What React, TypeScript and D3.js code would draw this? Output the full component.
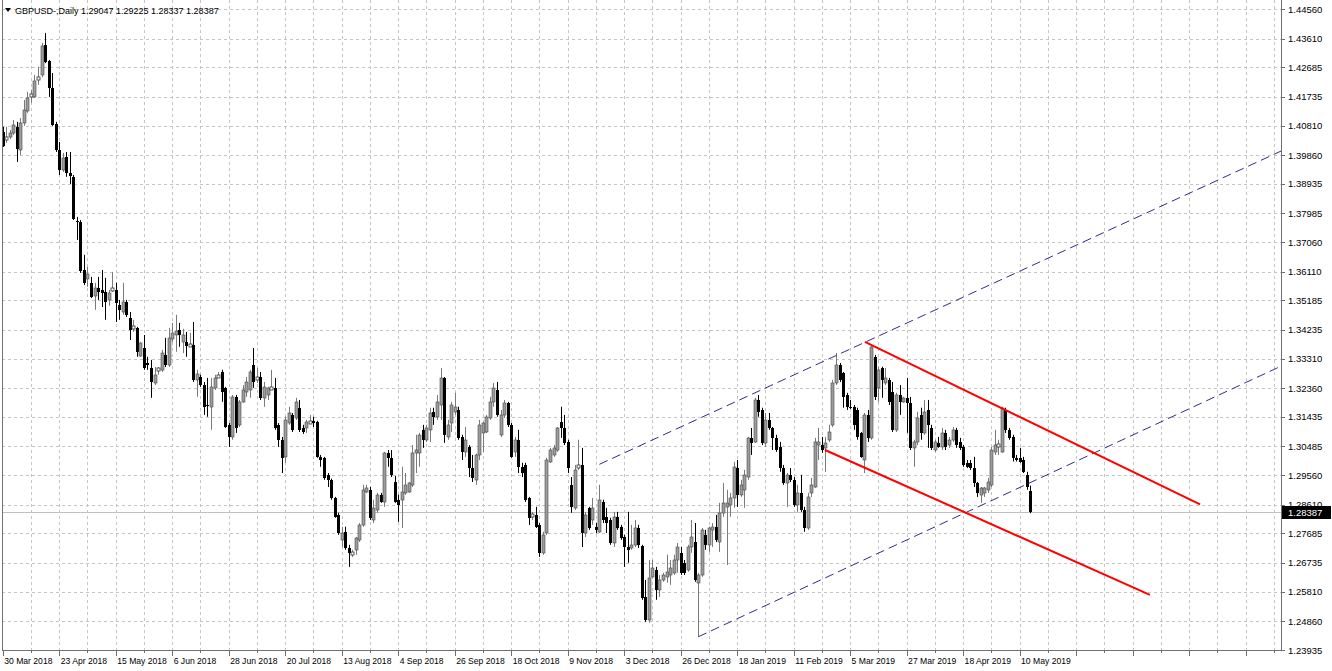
import React from "react";
import * as d3 from "d3";

const W = 1332;
const H = 671;

// ---- chart data (GBPUSD daily, 30 Mar 2018 .. 15 May 2019) ----
const symbolTitle = "GBPUSD-,Daily";
const lastQuote = ["1.29047", "1.29225", "1.28337", "1.28387"];

const tickLabels = [
  "30 Mar 2018", "23 Apr 2018", "15 May 2018", "6 Jun 2018", "28 Jun 2018", "20 Jul 2018",
  "13 Aug 2018", "4 Sep 2018", "26 Sep 2018", "18 Oct 2018", "9 Nov 2018", "3 Dec 2018",
  "26 Dec 2018", "18 Jan 2019", "11 Feb 2019", "5 Mar 2019", "27 Mar 2019", "18 Apr 2019",
  "10 May 2019",
];
const barsPerLabel = 16;
const barsPerGrid = 8;

const priceTicks = [
  1.4456, 1.4361, 1.42685, 1.41735, 1.4081, 1.3986, 1.38935, 1.37985, 1.3706, 1.3611,
  1.35185, 1.34235, 1.3331, 1.3236, 1.31435, 1.30485, 1.2956, 1.2861, 1.27685, 1.26735,
  1.2581, 1.2486, 1.23935,
];

const opens = [
  1.4060,1.4035,1.4044,1.4057,1.4077,1.4003,1.4089,1.4128,1.4173,1.4173,
  1.4228,1.4244,1.4340,1.4289,1.4202,1.4086,1.4003,1.3938,1.3980,1.3928,
  1.3916,1.3774,1.3771,1.3616,1.3587,1.3575,1.3533,1.3559,1.3552,1.3546,
  1.3520,1.3552,1.3552,1.3504,1.3481,1.3513,1.3462,1.3427,1.3430,1.3340,
  1.3366,1.3317,1.3301,1.3253,1.3291,1.3295,1.3343,1.3311,1.3394,1.3407,
  1.3423,1.3385,1.3385,1.3372,1.3375,1.3263,1.3272,1.3246,1.3182,1.3176,
  1.3237,1.3272,1.3288,1.3237,1.3118,1.3079,1.3208,1.3118,1.3192,1.3224,
  1.3230,1.3310,1.3266,1.3272,1.3205,1.3214,1.3234,1.3237,1.3118,1.3070,
  1.3015,1.3124,1.3150,1.3140,1.3173,1.3108,1.3108,1.3124,1.3131,1.3127,
  1.3015,1.3012,1.2957,1.2941,1.2883,1.2828,1.2748,1.2774,1.2722,1.2703,
  1.2716,1.2748,1.2796,1.2902,1.2909,1.2812,1.2844,1.2893,1.2870,1.3028,
  1.3012,1.2934,1.2877,1.2877,1.2899,1.2902,1.2925,1.3028,1.3028,1.3102,
  1.3070,1.3102,1.3160,1.3144,1.3182,1.3269,1.3079,1.3124,1.3160,1.3166,
  1.3079,1.3031,1.3047,1.2979,1.2941,1.3021,1.3092,1.3095,1.3140,1.3192,
  1.3230,1.3086,1.3150,1.3189,1.3118,1.3031,1.3070,1.2983,1.2989,1.2883,
  1.2822,1.2828,1.2796,1.2706,1.2770,1.2999,1.3021,1.3037,1.3127,1.3108,
  1.3063,1.2925,1.2851,1.2983,1.2989,1.2770,1.2851,1.2812,1.2790,1.2774,
  1.2870,1.2822,1.2812,1.2738,1.2822,1.2790,1.2757,1.2725,1.2722,1.2732,
  1.2786,1.2729,1.2564,1.2490,1.2629,1.2651,1.2587,1.2619,1.2629,1.2635,
  1.2642,1.2683,1.2706,1.2674,1.2651,1.2725,1.2741,1.2610,1.2635,1.2764,
  1.2732,1.2780,1.2790,1.2741,1.2835,1.2854,1.2861,1.2883,1.2979,1.2893,
  1.2909,1.2951,1.3076,1.3063,1.3198,1.3166,1.3060,1.3134,1.3108,1.3076,
  1.3047,1.2979,1.2931,1.2957,1.2941,1.2861,1.2899,1.2844,1.2786,1.2899,
  1.2918,1.3053,1.3053,1.3044,1.3070,1.3118,1.3253,1.3311,1.3285,1.3214,
  1.3176,1.3176,1.3166,1.3092,1.3005,1.3150,1.3076,1.3336,1.3237,1.3301,
  1.3253,1.3263,1.3224,1.3102,1.3214,1.3192,1.3205,1.3189,1.3044,1.3063,
  1.3150,1.3092,1.3166,1.3108,1.3037,1.3060,1.3047,1.3092,1.3053,1.3070,
  1.3102,1.3063,1.3047,1.2996,1.2996,1.2979,1.2931,1.2893,1.2899,1.2909,
  1.2925,1.3031,1.3047,1.3031,1.3166,1.3102,1.3079,1.3012,1.3012,1.3005,
  1.2957,1.29047,
];

const highs = [
  1.4077,1.4077,1.4067,1.4099,1.4093,1.4105,1.4163,1.4189,1.4196,1.4244,
  1.4270,1.4347,1.4379,1.4292,1.4250,1.4093,1.4028,1.3993,1.3996,1.3996,
  1.3922,1.3787,1.3777,1.3665,1.3626,1.3594,1.3575,1.3594,1.3616,1.3591,
  1.3552,1.3610,1.3575,1.3520,1.3575,1.3520,1.3481,1.3456,1.3433,1.3385,
  1.3407,1.3337,1.3327,1.3304,1.3304,1.3359,1.3398,1.3430,1.3446,1.3472,
  1.3446,1.3427,1.3417,1.3414,1.3449,1.3295,1.3279,1.3256,1.3269,1.3269,
  1.3279,1.3288,1.3295,1.3240,1.3124,1.3214,1.3214,1.3198,1.3246,1.3272,
  1.3295,1.3365,1.3301,1.3288,1.3256,1.3240,1.3295,1.3269,1.3124,1.3079,
  1.3144,1.3176,1.3156,1.3205,1.3198,1.3118,1.3134,1.3150,1.3144,1.3131,
  1.3021,1.3015,1.2963,1.2945,1.2886,1.2835,1.2790,1.2790,1.2732,1.2716,
  1.2757,1.2802,1.2925,1.2925,1.2918,1.2877,1.2899,1.2899,1.3031,1.3037,
  1.3037,1.2954,1.2893,1.2983,1.2963,1.2934,1.3053,1.3086,1.3092,1.3118,
  1.3118,1.3173,1.3173,1.3214,1.3301,1.3272,1.3134,1.3192,1.3221,1.3176,
  1.3086,1.3111,1.3053,1.3021,1.3025,1.3134,1.3127,1.3150,1.3208,1.3253,
  1.3256,1.3166,1.3198,1.3192,1.3124,1.3079,1.3102,1.2996,1.2996,1.2886,
  1.2838,1.2854,1.2802,1.2774,1.3012,1.3044,1.3053,1.3111,1.3176,1.3150,
  1.3070,1.2950,1.2989,1.3070,1.3044,1.2838,1.2854,1.2883,1.2802,1.2925,
  1.2877,1.2851,1.2819,1.2838,1.2838,1.2796,1.2764,1.2838,1.2796,1.2812,
  1.2796,1.2732,1.2619,1.2683,1.2683,1.2661,1.2635,1.2642,1.2700,1.2683,
  1.2700,1.2738,1.2725,1.2683,1.2732,1.2812,1.2802,1.2642,1.2786,1.2780,
  1.2790,1.2802,1.2828,1.2867,1.2931,1.2909,1.2899,1.2999,1.3005,1.2941,
  1.2973,1.3079,1.3108,1.3205,1.3214,1.3173,1.3156,1.3156,1.3111,1.3086,
  1.3063,1.2989,1.2963,1.2979,1.2950,1.2925,1.2957,1.2854,1.2899,1.2947,
  1.3076,1.3108,1.3079,1.3079,1.3118,1.3263,1.3349,1.3317,1.3288,1.3221,
  1.3198,1.3182,1.3173,1.3095,1.3156,1.3166,1.3375,1.3343,1.3304,1.3305,
  1.3301,1.3269,1.3256,1.3221,1.3246,1.3208,1.3269,1.3208,1.3070,1.3160,
  1.3173,1.3198,1.3198,1.3118,1.3070,1.3079,1.3108,1.3102,1.3079,1.3111,
  1.3108,1.3076,1.3053,1.3005,1.3005,1.3015,1.2934,1.2918,1.2918,1.2947,
  1.3047,1.3102,1.3070,1.3176,1.3173,1.3108,1.3086,1.3021,1.3044,1.3015,
  1.2967,1.29225,
];

const lows = [
  1.4012,1.4025,1.4038,1.4051,1.3964,1.3986,1.4080,1.4122,1.4154,1.4170,
  1.4212,1.4237,1.4282,1.4173,1.4080,1.3996,1.3922,1.3932,1.3916,1.3893,
  1.3777,1.3713,1.3607,1.3568,1.3562,1.3526,1.3488,1.3520,1.3497,1.3456,
  1.3501,1.3546,1.3449,1.3456,1.3472,1.3465,1.3391,1.3417,1.3337,1.3337,
  1.3295,1.3295,1.3205,1.3246,1.3279,1.3288,1.3304,1.3304,1.3385,1.3353,
  1.3369,1.3349,1.3337,1.3369,1.3256,1.3208,1.3240,1.3150,1.3144,1.3102,
  1.3230,1.3269,1.3192,1.3108,1.3047,1.3070,1.3092,1.3111,1.3189,1.3208,
  1.3205,1.3237,1.3253,1.3198,1.3176,1.3198,1.3230,1.3102,1.3047,1.2963,
  1.2996,1.3118,1.3095,1.3134,1.3095,1.3089,1.3092,1.3121,1.3111,1.3012,
  1.2983,1.2941,1.2918,1.2877,1.2819,1.2764,1.2725,1.2716,1.2661,1.2693,
  1.2700,1.2741,1.2790,1.2899,1.2812,1.2802,1.2835,1.2867,1.2854,1.2983,
  1.2950,1.2867,1.2806,1.2786,1.2893,1.2899,1.2918,1.2963,1.2983,1.3044,
  1.3063,1.3063,1.3118,1.3134,1.3134,1.3060,1.3070,1.3095,1.3150,1.3070,
  1.3005,1.3015,1.2950,1.2934,1.2925,1.3005,1.3031,1.3092,1.3134,1.3176,
  1.3144,1.3079,1.3140,1.3111,1.3012,1.3015,1.2963,1.2950,1.2870,1.2796,
  1.2812,1.2786,1.2693,1.2700,1.2764,1.2996,1.3015,1.3031,1.3076,1.3053,
  1.2963,1.2835,1.2844,1.2973,1.2725,1.2757,1.2780,1.2796,1.2770,1.2770,
  1.2802,1.2770,1.2732,1.2725,1.2780,1.2748,1.2661,1.2674,1.2716,1.2725,
  1.2722,1.2555,1.2484,1.2481,1.2626,1.2555,1.2564,1.2613,1.2610,1.2603,
  1.2635,1.2642,1.2635,1.2635,1.2645,1.2706,1.2613,1.2436,1.2629,1.2716,
  1.2709,1.2725,1.2741,1.2709,1.2822,1.2667,1.2822,1.2851,1.2854,1.2886,
  1.2851,1.2941,1.3021,1.3060,1.3144,1.3053,1.3047,1.3102,1.3037,1.3031,
  1.2967,1.2925,1.2854,1.2934,1.2854,1.2838,1.2838,1.2774,1.2780,1.2886,
  1.2915,1.3005,1.3028,1.2967,1.3063,1.3111,1.3246,1.3256,1.3173,1.3166,
  1.3169,1.3102,1.3070,1.3012,1.2963,1.3063,1.3070,1.3198,1.3192,1.3205,
  1.3246,1.3182,1.3095,1.3095,1.3150,1.3189,1.3092,1.3037,1.2983,1.3053,
  1.3070,1.3086,1.3044,1.3037,1.3031,1.3044,1.3037,1.3037,1.3044,1.3063,
  1.3044,1.3037,1.2983,1.2979,1.2973,1.2918,1.2886,1.2867,1.2886,1.2899,
  1.2918,1.3021,1.3021,1.3028,1.3092,1.3070,1.3000,1.3000,1.2996,1.2963,
  1.2909,1.28337,
];

const closes = [
  1.4015,1.4041,1.4057,1.4083,1.4006,1.4089,1.4131,1.4170,1.4180,1.4224,
  1.4234,1.4337,1.4286,1.4202,1.4083,1.4003,1.3938,1.3977,1.3928,1.3919,
  1.3780,1.3771,1.3613,1.3575,1.3604,1.3530,1.3559,1.3546,1.3542,1.3513,
  1.3542,1.3555,1.3510,1.3488,1.3513,1.3472,1.3423,1.3433,1.3353,1.3382,
  1.3301,1.3311,1.3256,1.3279,1.3298,1.3349,1.3311,1.3398,1.3414,1.3420,
  1.3407,1.3407,1.3372,1.3375,1.3263,1.3282,1.3246,1.3176,1.3179,1.3240,
  1.3269,1.3275,1.3224,1.3111,1.3079,1.3208,1.3108,1.3192,1.3230,1.3256,
  1.3288,1.3256,1.3269,1.3205,1.3240,1.3237,1.3237,1.3108,1.3070,1.3012,
  1.3134,1.3156,1.3102,1.3192,1.3102,1.3095,1.3127,1.3127,1.3124,1.3015,
  1.3005,1.2947,1.2941,1.2883,1.2822,1.2770,1.2770,1.2722,1.2706,1.2706,
  1.2754,1.2796,1.2909,1.2915,1.2819,1.2851,1.2893,1.2870,1.3028,1.3012,
  1.2957,1.2870,1.2861,1.2902,1.2925,1.2931,1.3028,1.3037,1.3086,1.3070,
  1.3108,1.3156,1.3144,1.3192,1.3269,1.3086,1.3118,1.3182,1.3176,1.3076,
  1.3031,1.3070,1.2979,1.2947,1.3021,1.3118,1.3124,1.3144,1.3192,1.3237,
  1.3150,1.3150,1.3189,1.3118,1.3015,1.3070,1.2983,1.2963,1.2877,1.2819,
  1.2828,1.2790,1.2706,1.2764,1.3005,1.3037,1.3044,1.3108,1.3108,1.3060,
  1.2979,1.2854,1.2973,1.2986,1.2770,1.2828,1.2786,1.2851,1.2780,1.2877,
  1.2812,1.2802,1.2738,1.2822,1.2786,1.2754,1.2725,1.2716,1.2732,1.2786,
  1.2732,1.2561,1.2490,1.2626,1.2658,1.2587,1.2619,1.2635,1.2645,1.2658,
  1.2683,1.2725,1.2642,1.2642,1.2725,1.2757,1.2619,1.2635,1.2780,1.2732,
  1.2786,1.2790,1.2748,1.2835,1.2867,1.2867,1.2883,1.2983,1.2893,1.2925,
  1.2957,1.3076,1.3060,1.3198,1.3160,1.3060,1.3134,1.3108,1.3076,1.3037,
  1.2979,1.2931,1.2957,1.2941,1.2861,1.2899,1.2844,1.2786,1.2886,1.2925,
  1.3063,1.3063,1.3037,1.3060,1.3095,1.3253,1.3311,1.3263,1.3208,1.3176,
  1.3173,1.3118,1.3079,1.3015,1.3150,1.3076,1.3369,1.3208,1.3295,1.3263,
  1.3269,1.3192,1.3102,1.3214,1.3192,1.3205,1.3189,1.3044,1.3063,1.3140,
  1.3092,1.3160,1.3118,1.3044,1.3063,1.3047,1.3092,1.3047,1.3070,1.3102,
  1.3053,1.3044,1.2989,1.2983,1.2979,1.2931,1.2899,1.2915,1.2915,1.2934,
  1.3037,1.3053,1.3053,1.3173,1.3102,1.3076,1.3012,1.3005,1.2999,1.2967,
  1.2918,1.28387,
];

// trend objects: [barIndex, price] anchor pairs
const channelUpper = [[169, 1.2991], [246, 1.3393]];
const channelLower = [[197, 1.2436], [291, 1.2932]];
const redUpper = [[244.2, 1.3385], [339.1, 1.2862]];
const redLower = [[232.9, 1.3037], [324.9, 1.2571]];

const FONT = "'Liberation Sans', Arial, sans-serif";

export default function App() {
  const n = Math.min(opens.length, highs.length, lows.length, closes.length);
  const plotLeft = 2;
  const plotRight = 1281;
  const plotTop = 0;
  const plotBottom = 650;

  const x = d3.scaleLinear().domain([0, 291]).range([2.7, 1030.2]);
  const y = d3.scaleLinear().domain([1.23935, 1.4456]).range([650, 9]);

  const edgeIdx = x.invert(plotRight);
  const ray = (pts: number[][]) => {
    const [[i1, p1], [i2, p2]] = pts;
    const slope = (p2 - p1) / (i2 - i1);
    const pe = p1 + slope * (edgeIdx - i1);
    return { x1: x(i1), y1: y(p1), x2: x(edgeIdx), y2: y(pe) };
  };
  const seg = (pts: number[][]) => ({
    x1: x(pts[0][0]), y1: y(pts[0][1]), x2: x(pts[1][0]), y2: y(pts[1][1]),
  });

  const gridIdx: number[] = [];
  for (let k = barsPerGrid; x(k) < plotRight; k += barsPerGrid) gridIdx.push(k);

  const lastClose = closes[n - 1];
  const yLast = y(lastClose);

  const candles = [];
  for (let i = 0; i < n; i++) {
    const o = opens[i], c = closes[i];
    const hi = Math.max(highs[i], o, c), lo = Math.min(lows[i], o, c);
    const cx = Math.round(x(i));
    const bull = c >= o;
    const yTop = Math.round(y(Math.max(o, c)));
    const yBot = Math.round(y(Math.min(o, c)));
    const h = Math.max(1, yBot - yTop);
    const wickColor = bull ? "#7a7a7a" : "#000";
    candles.push(
      <g key={i}>
        <line x1={cx + 0.5} x2={cx + 0.5} y1={y(hi)} y2={y(lo)} stroke={wickColor} strokeWidth={1} />
        {bull ? (
          h <= 2 ? (
            <rect x={cx - 1} y={yTop - 1} width={3} height={3} fill="#fff" stroke="#333" strokeWidth={0.8} />
          ) : (
            <rect x={cx - 1} y={yTop} width={3} height={h} fill="#9c9c9c" stroke="#4a4a4a" strokeWidth={0.6} />
          )
        ) : (
          <rect x={cx - 1} y={yTop} width={3} height={h} fill="#000" />
        )}
      </g>
    );
  }

  const cu = ray(channelUpper);
  const cl = ray(channelLower);
  const ru = seg(redUpper);
  const rl = seg(redLower);

  return (
    <div style={{ position: "absolute", left: 0, top: 0, width: W, height: H, background: "#fff" }}>
      <svg width={W} height={H} style={{ display: "block" }}>
        <defs>
          <clipPath id="plot">
            <rect x={plotLeft} y={plotTop} width={plotRight - plotLeft} height={plotBottom - plotTop} />
          </clipPath>
        </defs>
        <rect x={0} y={0} width={W} height={H} fill="#fff" />

        {/* grid */}
        <g stroke="#c4c4c4" strokeWidth={1} strokeDasharray="3,3">
          {priceTicks.map((p) => (
            <line key={"h" + p} x1={plotLeft} x2={plotRight} y1={Math.round(y(p)) + 0.5} y2={Math.round(y(p)) + 0.5} />
          ))}
          {gridIdx.map((k) => (
            <line key={"v" + k} x1={Math.round(x(k)) + 0.5} x2={Math.round(x(k)) + 0.5} y1={plotTop} y2={plotBottom} />
          ))}
        </g>

        {/* last price line */}
        <line x1={plotLeft} x2={plotRight} y1={Math.round(yLast) + 0.5} y2={Math.round(yLast) + 0.5} stroke="#c0c0c0" strokeWidth={1} />

        <g clipPath="url(#plot)">
          {candles}
          <g stroke="#2e2e8a" strokeWidth={1} strokeDasharray="9,5">
            <line {...cu} />
            <line {...cl} />
          </g>
          <g stroke="#ff0000" strokeWidth={2}>
            <line {...ru} />
            <line {...rl} />
          </g>
        </g>

        {/* frame */}
        <line x1={plotLeft + 0.5} x2={plotLeft + 0.5} y1={0} y2={plotBottom} stroke="#707070" />
        <line x1={plotRight + 0.5} x2={plotRight + 0.5} y1={0} y2={plotBottom + 1} stroke="#707070" />
        <line x1={plotLeft} x2={plotRight + 1} y1={plotBottom + 0.5} y2={plotBottom + 0.5} stroke="#707070" />

        {/* price axis */}
        <g fontFamily={FONT} fontSize={9.5} fill="#000">
          {priceTicks.map((p) => (
            <g key={"t" + p}>
              <line x1={plotRight} x2={plotRight + 4} y1={Math.round(y(p)) + 0.5} y2={Math.round(y(p)) + 0.5} stroke="#707070" />
              <text x={plotRight + 7} y={y(p) + 3.5}>{p.toFixed(5)}</text>
            </g>
          ))}
        </g>
        <rect x={plotRight + 1} y={Math.round(yLast) - 6} width={49} height={13} fill="#000" />
        <text x={plotRight + 7} y={yLast + 4} fontFamily={FONT} fontSize={9.5} fill="#fff">
          {lastClose.toFixed(5)}
        </text>

        {/* time axis */}
        <g fontFamily={FONT} fontSize={8.6} fill="#000">
          {gridIdx.concat([0]).map((k) => (
            <line key={"xt" + k} x1={Math.round(x(k)) + 0.5} x2={Math.round(x(k)) + 0.5} y1={plotBottom}
              y2={plotBottom + (k % barsPerLabel === 0 ? 6 : 3)} stroke="#707070" />
          ))}
          {tickLabels.map((lab, j) => (
            <text key={lab} x={x(j * barsPerLabel) + 1.5} y={plotBottom + 14}>{lab}</text>
          ))}
        </g>

        {/* header */}
        <path d="M5,8 L11,8 L8,12 Z" fill="#000" />
        <text x={15} y={14} fontFamily={FONT} fontSize={9} fill="#000">
          {symbolTitle + "  " + lastQuote.join(" ")}
        </text>
      </svg>
    </div>
  );
}
